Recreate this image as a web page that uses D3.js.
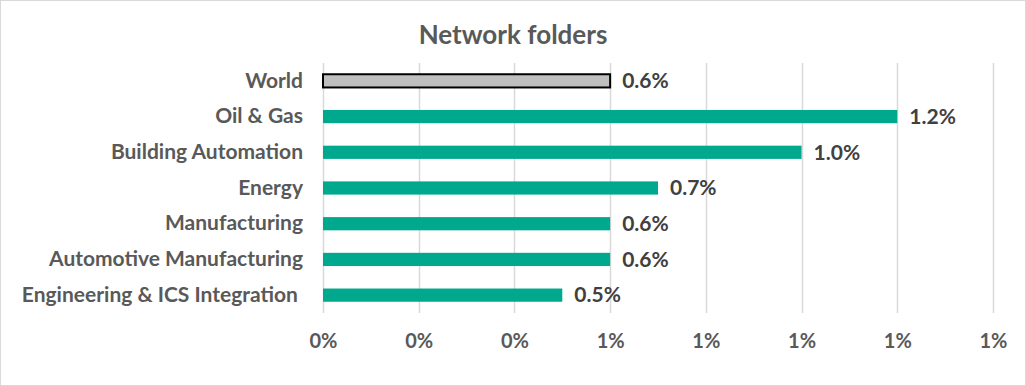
<!DOCTYPE html>
<html>
<head>
<meta charset="utf-8">
<script src="https://cdn.jsdelivr.net/npm/d3@7"></script>
<style>
  body { margin: 0; background: #fff; }
  text { font-family: Lato, "Open Sans", sans-serif; }
</style>
</head>
<body>
<div class="grafico"></div>
<script>
// dati
var categorie = ["World", "Oil & Gas", "Building Automation", "Energy", "Manufacturing", "Automotive Manufacturing", "Engineering & ICS Integration "];
var valori = [0.006, 0.012, 0.010, 0.007, 0.006, 0.006, 0.005];
var etichette = ["0.6%", "1.2%", "1.0%", "0.7%", "0.6%", "0.6%", "0.5%"];
var tickValori = [0, 0.002, 0.004, 0.006, 0.008, 0.010, 0.012, 0.014];

var w = 1026,
    h = 386;

var svg = d3.select(".grafico")
  .append("svg")
  .attr("width", w)
  .attr("height", h);

// cornice
svg.append("rect")
  .attr("x", 0.5).attr("y", 0.5)
  .attr("width", w - 1).attr("height", h - 1)
  .attr("fill", "white")
  .attr("stroke", "#d9d9d9");

var x = d3.scaleLinear()
  .domain([0, 0.014])
  .range([323, 993]);

var y = d3.scaleBand()
  .domain(categorie)
  .range([63, 313])
  .paddingInner(0.63)
  .paddingOuter(0.315);

// titolo
svg.append("text")
  .attr("x", 513)
  .attr("y", 44)
  .attr("text-anchor", "middle")
  .attr("font-size", 26)
  .attr("font-weight", "bold")
  .attr("fill", "#595959")
  .text("Network folders");

// griglia verticale
svg.append("g")
  .selectAll("line")
  .data(tickValori)
  .enter()
  .append("line")
  .attr("x1", function (d) { return Math.round(x(d)) + 0.5; })
  .attr("x2", function (d) { return Math.round(x(d)) + 0.5; })
  .attr("y1", 63)
  .attr("y2", 313)
  .attr("stroke", "#d9d9d9")
  .attr("stroke-width", 1.5);

// asse x
var asseX = svg.append("g")
  .attr("transform", "translate(0,313)")
  .call(d3.axisBottom(x).tickValues(tickValori).tickFormat(d3.format(".0%")).tickSize(0).tickPadding(21));
asseX.select(".domain").remove();
asseX.selectAll("text")
  .attr("font-size", 20)
  .attr("font-weight", "bold")
  .attr("fill", "#595959")
  .style("font-family", "Lato, 'Open Sans', sans-serif");

// asse y
var asseY = svg.append("g")
  .attr("transform", "translate(323,0)")
  .call(d3.axisLeft(y).tickSize(0).tickPadding(20));
asseY.select(".domain").remove();
asseY.selectAll("text")
  .attr("font-size", 21)
  .attr("font-weight", "bold")
  .attr("fill", "#595959")
  .style("white-space", "pre")
  .style("font-family", "Lato, 'Open Sans', sans-serif");

// barre
svg.append("g")
  .selectAll("rect")
  .data(valori)
  .enter()
  .append("rect")
  .attr("x", x(0))
  .attr("y", function (d, i) { return y(categorie[i]); })
  .attr("width", function (d) { return x(d) - x(0); })
  .attr("height", y.bandwidth())
  .attr("fill", function (d, i) { return i === 0 ? "#bfbfbf" : "#00a88e"; })
  .attr("stroke", function (d, i) { return i === 0 ? "#000" : "none"; })
  .attr("stroke-width", 2);

// etichette dei valori
svg.append("g")
  .selectAll("text")
  .data(valori)
  .enter()
  .append("text")
  .attr("x", function (d) { return x(d) + 12; })
  .attr("y", function (d, i) { return y(categorie[i]) + y.bandwidth() / 2; })
  .attr("dy", "0.35em")
  .attr("font-size", 21)
  .attr("font-weight", "bold")
  .attr("fill", "#404040")
  .text(function (d, i) { return etichette[i]; });
</script>
</body>
</html>
